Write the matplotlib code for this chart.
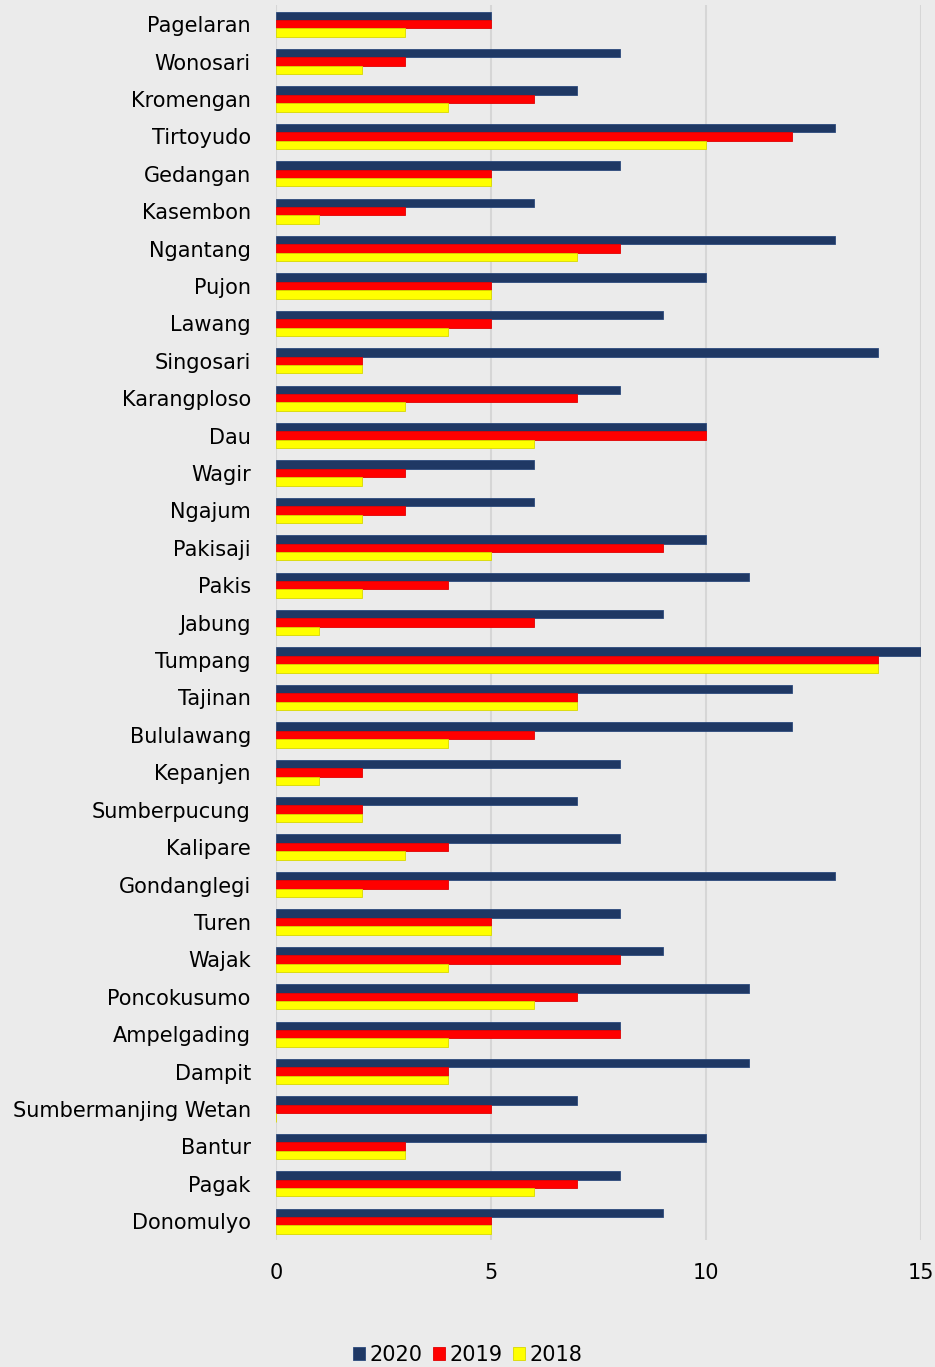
import numpy as np
import matplotlib.pyplot as plt

# Kecamatan (top to bottom as shown)
kecamatan = ['Pagelaran', 'Wonosari', 'Kromengan', 'Tirtoyudo', 'Gedangan', 'Kasembon',
             'Ngantang', 'Pujon', 'Lawang', 'Singosari', 'Karangploso', 'Dau', 'Wagir',
             'Ngajum', 'Pakisaji', 'Pakis', 'Jabung', 'Tumpang', 'Tajinan', 'Bululawang',
             'Kepanjen', 'Sumberpucung', 'Kalipare', 'Gondanglegi', 'Turen', 'Wajak',
             'Poncokusumo', 'Ampelgading', 'Dampit', 'Sumbermanjing Wetan', 'Bantur',
             'Pagak', 'Donomulyo']

v2020 = [5, 8, 7, 13, 8, 6, 13, 10, 9, 14, 8, 10, 6, 6, 10, 11, 9, 15, 12, 12,
         8, 7, 8, 13, 8, 9, 11, 8, 11, 7, 10, 8, 9]
v2019 = [5, 3, 6, 12, 5, 3, 8, 5, 5, 2, 7, 10, 3, 3, 9, 4, 6, 14, 7, 6,
         2, 2, 4, 4, 5, 8, 7, 8, 4, 5, 3, 7, 5]
v2018 = [3, 2, 4, 10, 5, 1, 7, 5, 4, 2, 3, 6, 2, 2, 5, 2, 1, 14, 7, 4,
         1, 2, 3, 2, 5, 4, 6, 4, 4, 0, 3, 6, 5]

years = ['2020', '2019', '2018']
colors = ['#1f3864', '#ff0000', '#ffff00']
edges = ['#2c4a7c', '#e00000', '#d8d800']

bg = '#ebebeb'
fig = plt.figure(figsize=(9.35, 13.67), dpi=100, facecolor=bg)
ax = fig.add_axes([0.295, 0.093, 0.69, 0.903], facecolor=bg)

y = np.arange(len(kecamatan))
h = 0.225
for i, (vals, c, ec, lab) in enumerate(zip([v2020, v2019, v2018], colors, edges, years)):
    ax.barh(y + (i - 1) * h, vals, height=h, color=c, edgecolor=ec,
            linewidth=0.6, label=lab, zorder=3)

ax.set_xlim(0, 15)
ax.set_ylim(len(kecamatan) - 0.5, -0.5)
ax.set_xticks([0, 5, 10, 15])
ax.set_yticks(y)
ax.set_yticklabels(kecamatan, fontsize=15)
ax.tick_params(axis='x', labelsize=15, length=0, pad=17)
ax.tick_params(axis='y', length=0, pad=18)
ax.grid(axis='x', color='#d6d6d6', linewidth=1.5, zorder=0)
for s in ax.spines.values():
    s.set_visible(False)

fig.legend(loc='lower center', ncol=3, frameon=False, fontsize=15,
           handlelength=0.6, handleheight=0.6, handletextpad=0.2,
           columnspacing=0.5, bbox_to_anchor=(0.5, -0.012))

fig.savefig('out.png', dpi=100, facecolor=bg)
